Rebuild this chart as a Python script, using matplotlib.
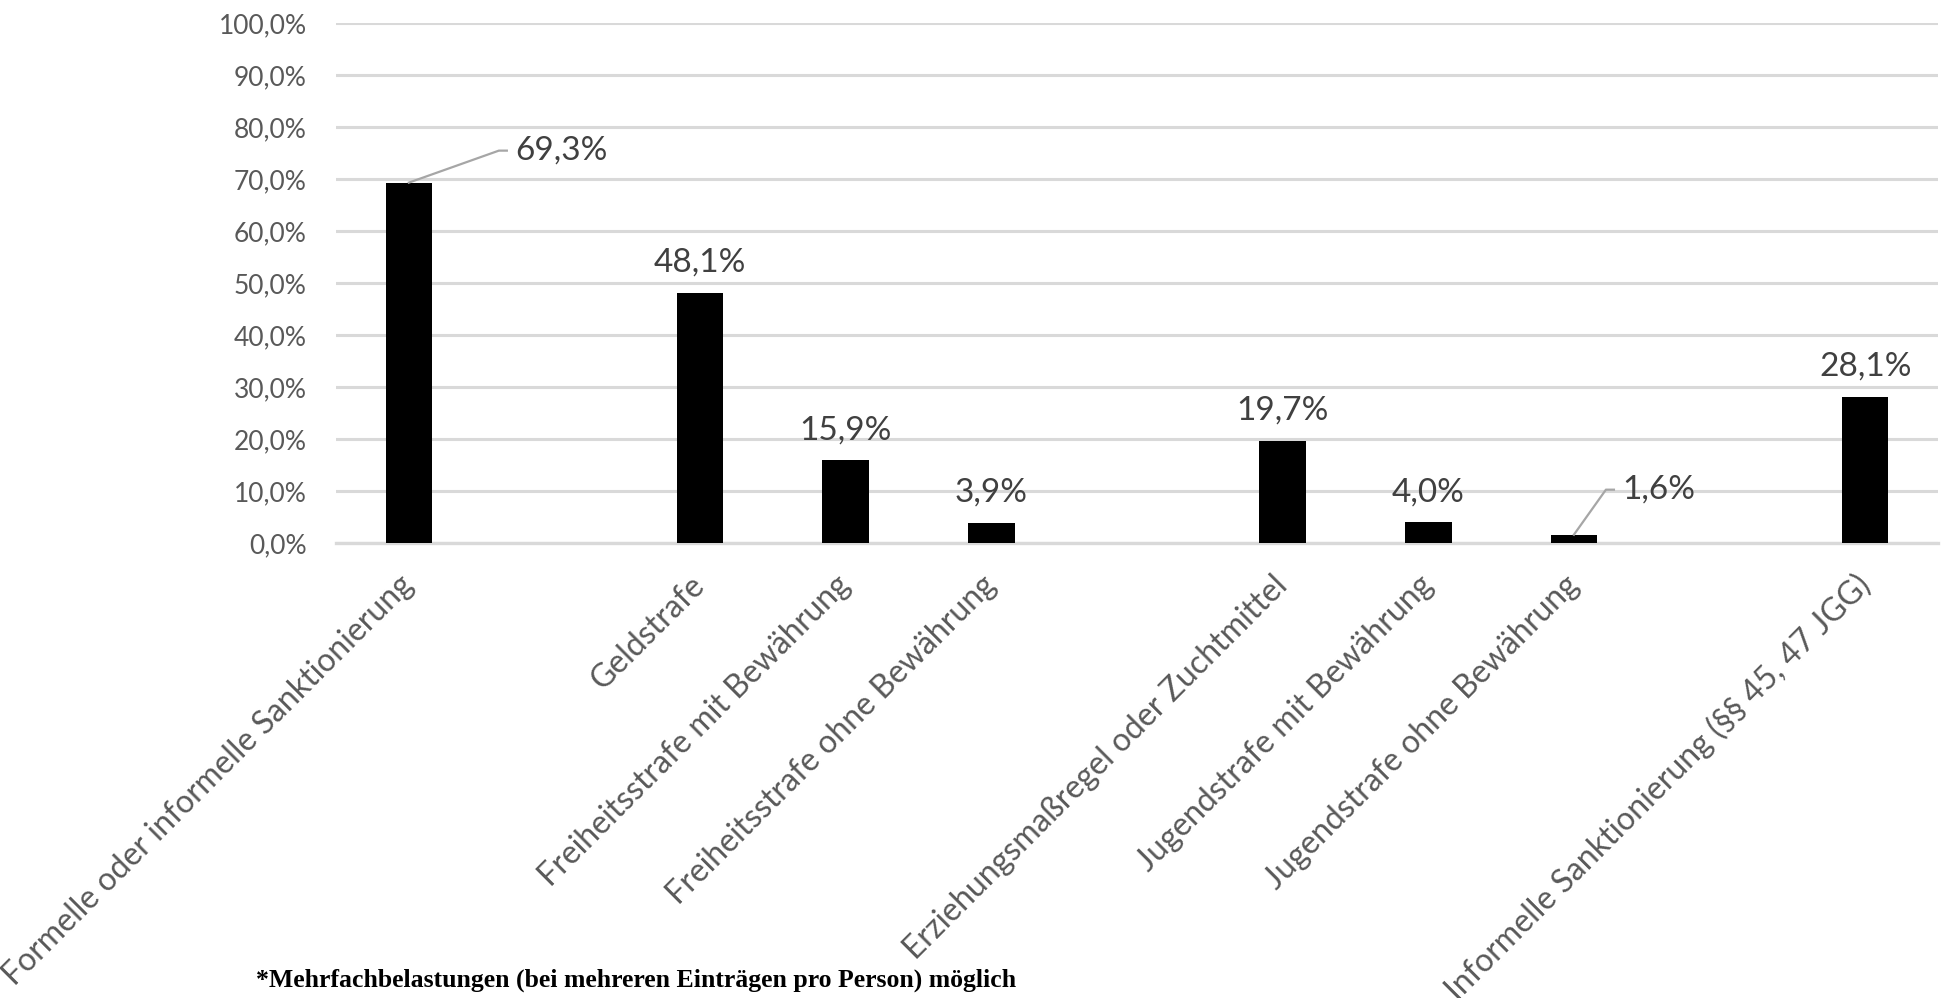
import matplotlib
matplotlib.use("Agg")
import matplotlib.pyplot as plt
import numpy as np

categories = [
    "Formelle oder informelle Sanktionierung", "",
    "Geldstrafe", "Freiheitsstrafe mit Bewährung", "Freiheitsstrafe ohne Bewährung", "",
    "Erziehungsmaßregel oder Zuchtmittel", "Jugendstrafe mit Bewährung", "Jugendstrafe ohne Bewährung", "",
    "Informelle Sanktionierung (§§ 45, 47 JGG)",
]
values = [69.3, None, 48.1, 15.9, 3.9, None, 19.7, 4.0, 1.6, None, 28.1]
yticks = [0, 10, 20, 30, 40, 50, 60, 70, 80, 90, 100]
footnote = "*Mehrfachbelastungen (bei mehreren Einträgen pro Person) möglich"

FONT = "Lato"
W, H = 1943, 998
AX_TOP, AX_BOT = 23.0, 543.0
fig = plt.figure(figsize=(W / 100, H / 100), dpi=100)
ax = fig.add_axes([336 / W, 1 - AX_BOT / H, 1602 / W, (AX_BOT - AX_TOP) / H])

x = np.arange(len(categories))
bx = [xi for xi, v in zip(x, values) if v is not None]
bv = [v for v in values if v is not None]
ax.bar(bx, bv, width=0.32, color="black", zorder=3)

ax.set_xlim(-0.5, len(categories) - 0.5)
ax.set_ylim(0, 100)
ax.set_yticks(yticks)
ax.set_yticklabels([f"{t:.1f}%".replace(".", ",") for t in yticks],
                   fontsize=19, color="#595959", family=FONT)
ax.yaxis.grid(True, color="#d9d9d9", linewidth=2.2, zorder=0)
ax.set_axisbelow(True)
for s in ["top", "right", "left"]:
    ax.spines[s].set_visible(False)
ax.spines["bottom"].set_color("#d9d9d9")
ax.spines["bottom"].set_linewidth(2.4)
ax.tick_params(axis="y", length=0, pad=21)
ax.tick_params(axis="x", length=0, pad=27)
ax.set_xticks(x)
ax.set_xticklabels(categories, rotation=45, ha="right", va="center",
                   rotation_mode="anchor", fontsize=23, color="#595959", family=FONT)

# pixel -> data-unit conversion for label offsets
px_x = 1 / 145.6
px_y = 100 / (AX_BOT - AX_TOP)

leader = {0: (90, 32, 98, 106), 8: (32, 45, 40, 48)}
for xi, v in zip(x, values):
    if v is None:
        continue
    lab = f"{v:.1f}%".replace(".", ",")
    if xi in leader:
        cx, cy, ex, tx = leader[xi]
        ax.plot([xi, xi + cx * px_x, xi + ex * px_x],
                [v, v + cy * px_y, v + cy * px_y],
                color="#a6a6a6", lw=1.6, zorder=4, clip_on=False)
        ax.text(xi + tx * px_x, v + cy * px_y, lab, ha="left", va="center",
                fontsize=24, color="#404040", family=FONT)
    else:
        ax.text(xi, v + 30 * px_y, lab, ha="center", va="center",
                fontsize=24, color="#404040", family=FONT)

fig.text(256 / W, 1 - 987 / H, footnote, ha="left", va="baseline",
         fontsize=18.5, fontweight="bold", family="Liberation Serif", color="black")

fig.savefig("out.png", dpi=100)
